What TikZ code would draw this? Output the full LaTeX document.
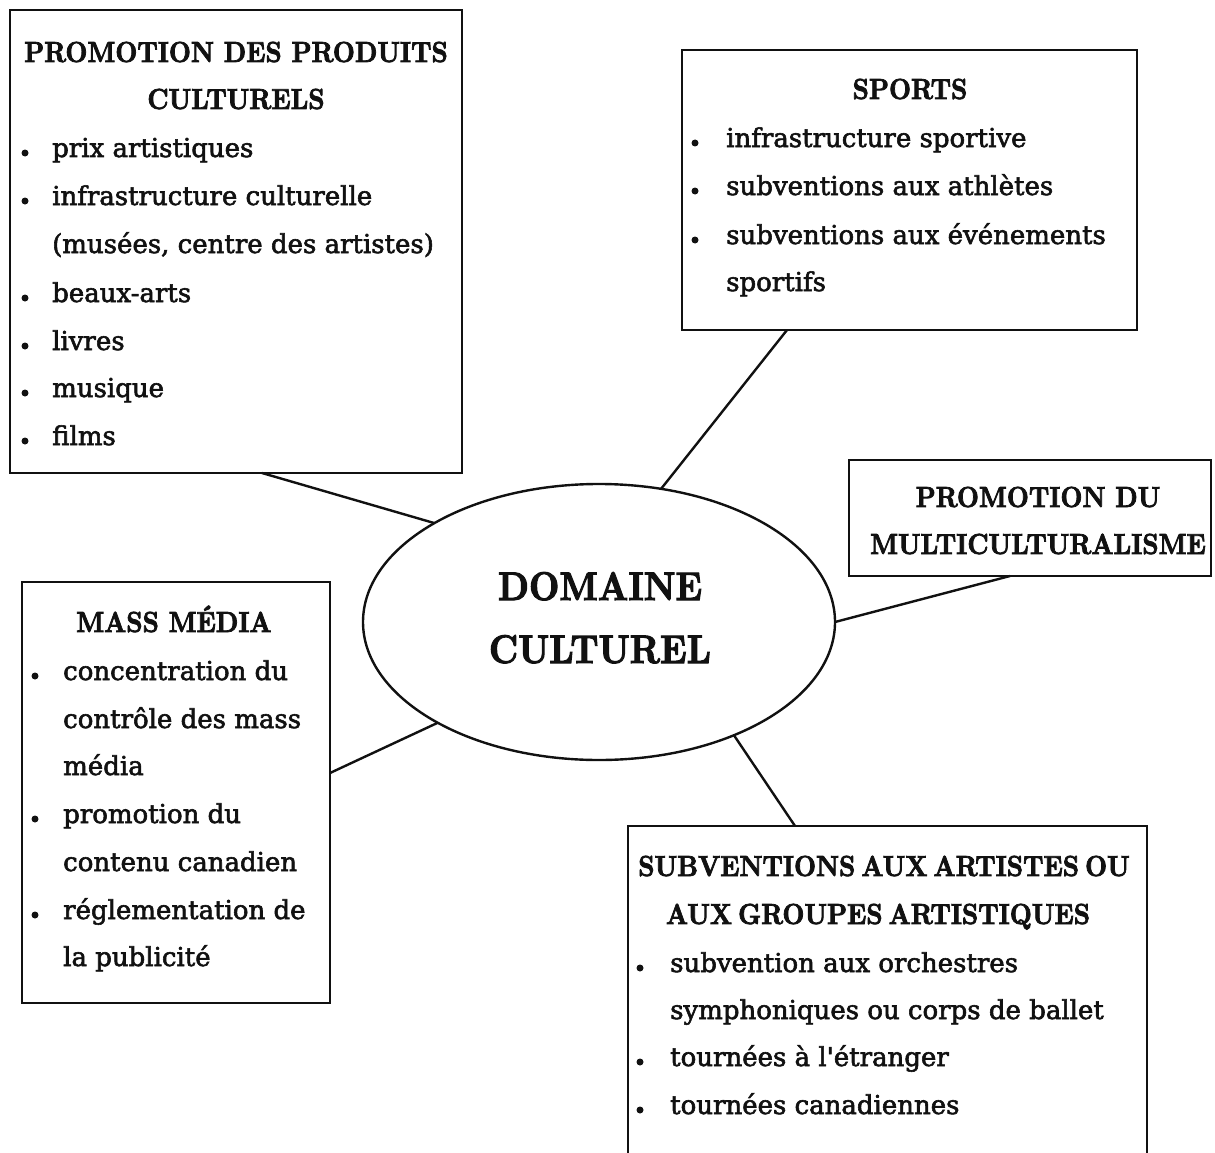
\documentclass[tikz,border=0pt]{standalone}
\usepackage{fontspec}
\newfontfamily\bodyfont{DejaVu Serif}[FakeBold=2.2]
\newfontfamily\headfont{lmroman10-bold}[Extension=.otf, FakeStretch=0.88, FakeBold=2.6]
\usetikzlibrary{shapes.geometric}
\definecolor{Ink}{HTML}{111111}

\tikzset{
  box/.style={rectangle, draw=Ink, line width=2.4pt, anchor=north west, inner sep=0pt, outer sep=0pt},
  item/.style={anchor=base west, inner sep=0pt, text=Ink, font=\bodyfont\fontsize{26}{30}\selectfont},
  head/.style={anchor=base, inner sep=0pt, text=Ink, font=\headfont\fontsize{29}{34}\selectfont},
  bigword/.style={anchor=base, inner sep=0pt, text=Ink, font=\headfont\fontsize{40}{46}\selectfont},
  dot/.style={circle, fill=Ink, inner sep=0pt, minimum size=7pt},
  link/.style={draw=Ink, line width=2.4pt},
}

\begin{document}
\begin{tikzpicture}[x=1pt, y=-1pt]
  \useasboundingbox (0,0) rectangle (1215,1153);

  % ===== CENTRE =====
  \node[ellipse, draw=Ink, line width=2.4pt, minimum width=472pt, minimum height=276pt,
        inner sep=0pt, outer sep=0pt] (dom) at (599,622) {};
  \node[bigword] (dom-a) at (600,600) {DOMAINE};
  \node[bigword] (dom-b) at (600,663) {CULTUREL};

  % ===== PRODUITS CULTURELS (top left) =====
  \node[box, minimum width=452pt, minimum height=463pt] (prod) at (10,10) {};
  \node[head] (prod-h1) at (236,62) {PROMOTION DES PRODUITS};
  \node[head] (prod-h2) at (236,109) {CULTURELS};
  \foreach \yy/\txt [count=\i] in {157/prix artistiques, 205/infrastructure culturelle,
      253/{(musées, centre des artistes)}, 302/beaux-arts, 350/livres, 397/musique, 445/films}
    \node[item] (prod-\i) at (52,\yy) {\txt};
  \foreach \yy in {157,205,302,350,397,445}
    \node[dot] (prod-b\yy) at (25,\yy-4) {};

  % ===== SPORTS (top right) =====
  \node[box, minimum width=455pt, minimum height=280pt] (sports) at (682,50) {};
  \node[head] (sports-h) at (910,99) {SPORTS};
  \foreach \yy/\txt [count=\i] in {147/infrastructure sportive, 195/subventions aux athlètes,
      244/subventions aux événements, 291/sportifs}
    \node[item] (sports-\i) at (726,\yy) {\txt};
  \foreach \yy in {147,195,244}
    \node[dot] (sports-b\yy) at (695,\yy-4) {};

  % ===== MULTICULTURALISME (right) =====
  \node[box, minimum width=362pt, minimum height=116pt] (multi) at (849,460) {};
  \node[head] (multi-h1) at (1038,507) {PROMOTION DU};
  \node[head] (multi-h2) at (1038,554) {MULTICULTURALISME};

  % ===== MASS MEDIA (left) =====
  \node[box, minimum width=308pt, minimum height=421pt] (media) at (22,582) {};
  \node[head] (media-h) at (174,632) {MASS MÉDIA};
  \foreach \yy/\txt [count=\i] in {680/concentration du, 728/contrôle des mass, 775/média,
      823/promotion du, 871/contenu canadien, 919/réglementation de, 966/la publicité}
    \node[item] (media-\i) at (63,\yy) {\txt};
  \foreach \yy in {680,823,919}
    \node[dot] (media-b\yy) at (35,\yy-4) {};

  % ===== SUBVENTIONS (bottom right, cut off by the page) =====
  \node[box, draw=none, minimum width=519pt, minimum height=327pt] (subv) at (628,826) {};
  \draw[link] (subv.south west) -- (subv.north west) -- (subv.north east) -- (subv.south east);
  \node[head] (subv-h1) at (884,876) {\spaceskip=6pt\relax SUBVENTIONS AUX ARTISTES OU};
  \node[head] (subv-h2) at (878,924) {\spaceskip=6pt\relax AUX GROUPES ARTISTIQUES};
  \foreach \yy/\txt [count=\i] in {972/subvention aux orchestres, 1019/symphoniques ou corps de ballet,
      1066/tournées à l'étranger, 1114/tournées canadiennes}
    \node[item] (subv-\i) at (670,\yy) {\txt};
  \foreach \yy in {972,1066,1114}
    \node[dot] (subv-b\yy) at (640,\yy-4) {};

  % ===== LINKS =====
  \coordinate (prod-s) at ([xshift=252pt]prod.south west);
  \coordinate (sports-s) at ([xshift=105pt]sports.south west);
  \coordinate (multi-s) at ([xshift=161pt]multi.south west);
  \coordinate (media-e) at ([yshift=-191pt]media.north east);
  \coordinate (subv-n) at ([xshift=167pt]subv.north west);
  \draw[link] (prod-s) -- (dom.149);
  \draw[link] (sports-s) -- (dom.65);
  \draw[link] (multi-s) -- (dom.0);
  \draw[link] (media-e) -- (dom.212);
  \draw[link] (subv-n) -- (dom.320);

\end{tikzpicture}
\end{document}
